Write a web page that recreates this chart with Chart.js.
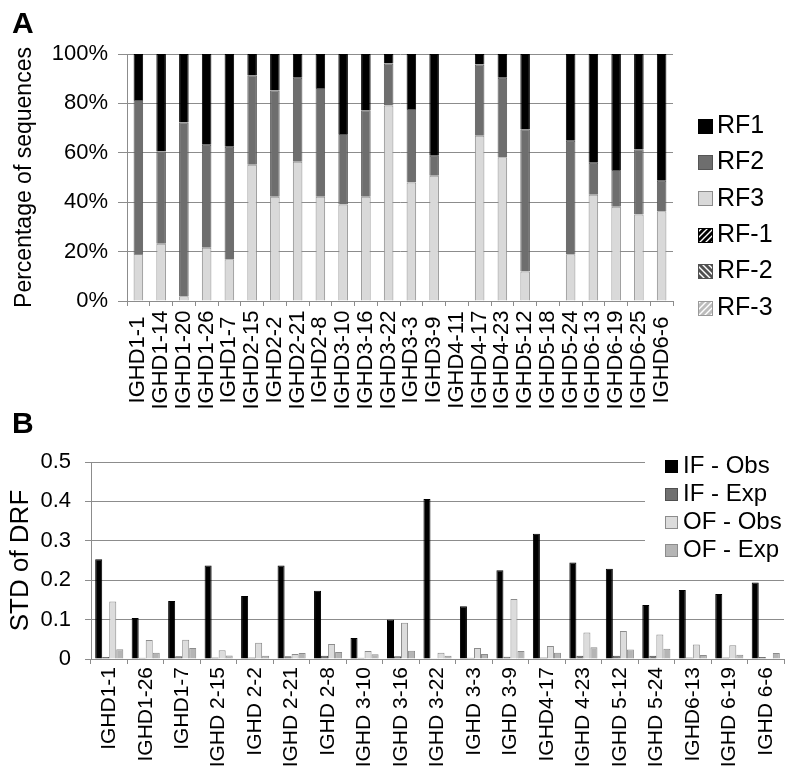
<!DOCTYPE html>
<html>
<head>
<meta charset="utf-8">
<script src="https://cdn.jsdelivr.net/npm/chart.js@4.4.1/dist/chart.umd.min.js"></script>
<style>
  html, body { margin: 0; padding: 0; background: #fff; }
  #wrap { position: relative; width: 795px; height: 777px; overflow: hidden; }
  canvas { position: absolute; left: 0; }
  #chartA { top: 0; }
  #chartB { top: 420px; }
  .tag { position: absolute; left: 12px; font: bold 30px 'Liberation Sans', Arial, sans-serif; line-height: 30px; color: #000; }
</style>
</head>
<body>
<div id="wrap">
  <canvas id="chartA" width="795" height="420"></canvas>
  <canvas id="chartB" width="795" height="357"></canvas>
  <div class="tag" style="top:8px">A</div>
  <div class="tag" style="top:408px">B</div>
</div>
<script>
// panel A: reading frame usage per IGHD gene (%)
const rfLabels = ['IGHD1-1', 'IGHD1-14', 'IGHD1-20', 'IGHD1-26', 'IGHD1-7', 'IGHD2-15', 'IGHD2-2', 'IGHD2-21',
  'IGHD2-8', 'IGHD3-10', 'IGHD3-16', 'IGHD3-22', 'IGHD3-3', 'IGHD3-9', 'IGHD4-11', 'IGHD4-17', 'IGHD4-23',
  'IGHD5-12', 'IGHD5-18', 'IGHD5-24', 'IGHD6-13', 'IGHD6-19', 'IGHD6-25', 'IGHD6-6'];
const rf3 = [19, 23.2, 1.9, 21.6, 16.9, 55.2, 42.2, 56.4, 42.2, 39.1, 42.2, 79.2, 48.0, 50.7, 0, 66.9, 58.2, 11.9, 0, 18.9, 43.0, 38.2, 35.0, 36.3];
const rf2 = [62.4, 37.3, 70.4, 41.7, 45.6, 36.2, 43.0, 34.0, 44.0, 28.5, 35.0, 17.0, 29.7, 8.1, 0, 28.8, 32.2, 57.6, 0, 46.0, 13.0, 14.8, 26.4, 12.4];
const rf1 = [18.6, 39.5, 27.7, 36.7, 37.5, 8.6, 14.8, 9.6, 13.8, 32.4, 22.8, 3.8, 22.3, 41.2, 0, 4.3, 9.6, 30.5, 0, 35.1, 44.0, 47.0, 38.6, 51.3];
const rfMinus1 = [0, 0, 0, 0, 0, 0, 0, 0, 0, 0, 0, 0, 0, 0, 0, 0, 0, 0, 0, 0, 0, 0, 0, 0];
const rfMinus2 = [0, 0, 0, 0, 0, 0, 0, 0, 0, 0, 0, 0, 0, 0, 0, 0, 0, 0, 0, 0, 0, 0, 0, 0];
const rfMinus3 = [0, 0, 0, 0, 0, 0, 0, 0, 0, 0, 0, 0, 0, 0, 0, 0, 0, 0, 0, 0, 0, 0, 0, 0];
const pctTicks = [0, 20, 40, 60, 80, 100];

// panel B: STD of DRF
const drfLabels = ['IGHD1-1', 'IGHD1-26', 'IGHD1-7', 'IGHD 2-15', 'IGHD 2-2', 'IGHD 2-21', 'IGHD 2-8', 'IGHD 3-10',
  'IGHD 3-16', 'IGHD 3-22', 'IGHD 3-3', 'IGHD 3-9', 'IGHD4-17', 'IGHD 4-23', 'IGHD 5-12', 'IGHD 5-24',
  'IGHD6-13', 'IGHD 6-19', 'IGHD 6-6'];
const ifObs = [0.253, 0.104, 0.147, 0.237, 0.160, 0.237, 0.173, 0.053, 0.100, 0.406, 0.134, 0.225, 0.318, 0.245, 0.229, 0.137, 0.175, 0.165, 0.194];
const ifExp = [0.005, 0.003, 0.007, 0.004, 0.004, 0.007, 0.008, 0.003, 0.007, 0.002, 0.003, 0.006, 0.004, 0.008, 0.008, 0.008, 0.004, 0.004, 0.005];
const ofObs = [0.146, 0.048, 0.049, 0.022, 0.041, 0.013, 0.038, 0.020, 0.092, 0.016, 0.028, 0.152, 0.033, 0.067, 0.071, 0.062, 0.037, 0.035, 0.002];
const ofExp = [0.025, 0.016, 0.028, 0.009, 0.008, 0.015, 0.018, 0.012, 0.021, 0.008, 0.013, 0.020, 0.016, 0.030, 0.024, 0.026, 0.010, 0.011, 0.015];

const FONT = "'Liberation Sans', Arial, sans-serif";
const gridGray = '#8c8c8c';
Chart.defaults.font.family = FONT;
Chart.defaults.color = '#000';

function hatch(ctx, color, dir) {
  const c = document.createElement('canvas');
  c.width = c.height = 6;
  const g = c.getContext('2d');
  g.fillStyle = color;
  g.fillRect(0, 0, 6, 6);
  g.strokeStyle = '#fff';
  g.lineWidth = 1.4;
  g.beginPath();
  if (dir > 0) {
    g.moveTo(0, 6); g.lineTo(6, 0);
    g.moveTo(-3, 3); g.lineTo(3, -3);
    g.moveTo(3, 9); g.lineTo(9, 3);
  } else {
    g.moveTo(0, 0); g.lineTo(6, 6);
    g.moveTo(-3, 3); g.lineTo(3, 9);
    g.moveTo(3, -3); g.lineTo(9, 3);
  }
  g.stroke();
  return ctx.createPattern(c, 'repeat');
}

// legend drawn as a plain list of boxes at a fixed spot
const boxLegend = {
  id: 'boxLegend',
  afterDraw(chart, args, opts) {
    const ctx = chart.ctx;
    ctx.save();
    if (opts.bg) {
      ctx.fillStyle = '#fff';
      ctx.fillRect(opts.bg[0], opts.bg[1], opts.bg[2], opts.bg[3]);
    }
    ctx.font = opts.font;
    ctx.textBaseline = 'middle';
    opts.order.forEach((di, i) => {
      const ds = chart.data.datasets[di];
      const cy = opts.y + i * opts.step;
      const top = Math.round(cy - opts.box / 2);
      ctx.fillStyle = ds.backgroundColor;
      ctx.fillRect(opts.x, top, opts.box, opts.box);
      ctx.strokeStyle = ds.legendBorder || ds.borderColor;
      ctx.lineWidth = 1;
      ctx.strokeRect(opts.x + 0.5, top + 0.5, opts.box - 1, opts.box - 1);
      ctx.fillStyle = '#000';
      ctx.fillText(ds.label, opts.x + opts.box + opts.gap, cy);
    });
    ctx.restore();
  }
};

// vertical category labels centred on a line
const vLabels = {
  id: 'vLabels',
  afterDraw(chart, args, opts) {
    const ctx = chart.ctx;
    const x = chart.scales.x;
    ctx.save();
    ctx.font = opts.font;
    ctx.fillStyle = '#000';
    ctx.textAlign = 'center';
    ctx.textBaseline = 'middle';
    chart.data.labels.forEach((label, i) => {
      ctx.save();
      ctx.translate(x.getPixelForTick(i), opts.centerY);
      ctx.rotate(-Math.PI / 2);
      ctx.fillText(label, 0, 0);
      ctx.restore();
    });
    ctx.restore();
  }
};

const ctxA = document.getElementById('chartA').getContext('2d');
new Chart(ctxA, {
  type: 'bar',
  data: {
    labels: rfLabels,
    datasets: [
      { label: 'RF3', data: rf3, backgroundColor: '#d9d9d9', borderColor: '#8c8c8c', borderWidth: 1 },
      { label: 'RF2', data: rf2, backgroundColor: '#6e6e6e', borderColor: '#555555', borderWidth: 1 },
      { label: 'RF1', data: rf1, backgroundColor: '#000000', borderColor: '#000000', borderWidth: 1 },
      { label: 'RF-1', data: rfMinus1, backgroundColor: hatch(ctxA, '#000000', 1), borderWidth: 0, legendBorder: '#000000' },
      { label: 'RF-2', data: rfMinus2, backgroundColor: hatch(ctxA, '#505050', -1), borderWidth: 0, legendBorder: '#505050' },
      { label: 'RF-3', data: rfMinus3, backgroundColor: hatch(ctxA, '#bcbcbc', 1), borderWidth: 0, legendBorder: '#9a9a9a' }
    ]
  },
  options: {
    responsive: false,
    animation: false,
    layout: { padding: { left: 0, top: 54, right: 122, bottom: 0 } },
    datasets: { bar: { categoryPercentage: 0.42, barPercentage: 1 } },
    scales: {
      x: {
        stacked: true,
        grid: { drawOnChartArea: false, tickLength: 5, color: gridGray },
        border: { color: gridGray },
        ticks: { display: false },
        afterFit: s => { s.height = 119; }
      },
      y: {
        stacked: true,
        min: 0,
        max: 100,
        afterBuildTicks: s => { s.ticks = pctTicks.map(v => ({ value: v })); },
        ticks: { padding: 10, font: { size: 22 }, callback: v => v + '%' },
        grid: { color: gridGray, tickLength: 9 },
        border: { color: gridGray },
        title: { display: true, text: 'Percentage of sequences', font: { size: 23 }, padding: { top: 11, bottom: 0 } },
        afterFit: s => { s.width = 127; }
      }
    },
    plugins: {
      legend: { display: false },
      tooltip: { enabled: false },
      boxLegend: { x: 698, y: 126, step: 36.4, box: 15, gap: 4, font: '25px ' + FONT, order: [2, 1, 0, 3, 4, 5] },
      vLabels: { centerY: 360, font: '22px ' + FONT }
    }
  },
  plugins: [boxLegend, vLabels]
});

const ctxB = document.getElementById('chartB').getContext('2d');
new Chart(ctxB, {
  type: 'bar',
  data: {
    labels: drfLabels,
    datasets: [
      { label: 'IF - Obs', data: ifObs, backgroundColor: '#000000', borderColor: '#000000' },
      { label: 'IF - Exp', data: ifExp, backgroundColor: '#707070', borderColor: '#4f4f4f' },
      { label: 'OF - Obs', data: ofObs, backgroundColor: '#dcdcdc', borderColor: '#8c8c8c' },
      { label: 'OF - Exp', data: ofExp, backgroundColor: '#b5b5b5', borderColor: '#8c8c8c' }
    ]
  },
  options: {
    responsive: false,
    animation: false,
    layout: { padding: { left: 0, top: 42, right: 11, bottom: 0 } },
    datasets: { bar: { categoryPercentage: 0.77, barPercentage: 1, borderWidth: 1 } },
    scales: {
      x: {
        grid: { drawOnChartArea: false, tickLength: 5, color: gridGray },
        border: { color: gridGray },
        ticks: { font: { size: 21 }, minRotation: 90, maxRotation: 90, autoSkip: false, padding: 3 },
        afterFit: s => { s.height = 118; }
      },
      y: {
        min: 0,
        max: 0.5,
        ticks: { stepSize: 0.1, padding: 14, font: { size: 22 } },
        grid: { color: gridGray, tickLength: 6 },
        border: { color: gridGray },
        title: { display: true, text: 'STD of DRF', font: { size: 26 }, padding: { top: 5, bottom: 0 } },
        afterFit: s => { s.width = 91; }
      }
    },
    plugins: {
      legend: { display: false },
      tooltip: { enabled: false },
      boxLegend: { x: 665, y: 46, step: 28.2, box: 13, gap: 5, font: '24px ' + FONT, order: [0, 1, 2, 3], bg: [645, 28, 150, 120] }
    }
  },
  plugins: [boxLegend]
});
</script>
</body>
</html>
